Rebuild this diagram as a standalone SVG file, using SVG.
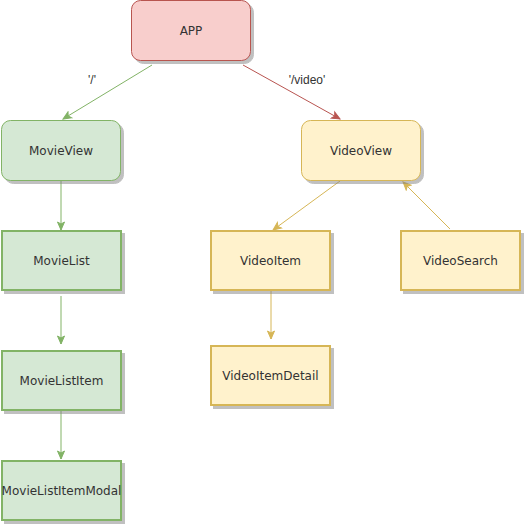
<svg xmlns="http://www.w3.org/2000/svg" width="524" height="525" viewBox="0 0 524 525">
<style>
.lbl{font-family:"DejaVu Sans",sans-serif;font-size:12px;fill:#333;text-anchor:middle;dominant-baseline:central}
.elbl{font-family:"Liberation Sans",Arial,sans-serif;font-size:12px;fill:#333;text-anchor:middle;dominant-baseline:central}
.g{fill:#d5e8d4;stroke:#82b366}
.r{fill:#f8cecc;stroke:#b85450}
.y{fill:#fff2cc;stroke:#d6b656}
.sh{filter:url(#shadow)}
</style>
<defs>
<filter id="shadow" x="-10%" y="-10%" width="130%" height="130%">
<feDropShadow dx="3" dy="3" stdDeviation="0.6" flood-color="#808080" flood-opacity="0.5"/>
</filter>
<marker id="ag" markerUnits="userSpaceOnUse" markerWidth="10" markerHeight="10" viewBox="0 0 10 10" refX="9" refY="5" orient="auto"><path d="M1,1.5 L9,5 L1,8.5 L3,5 z" fill="#82b366" stroke="#82b366"/></marker>
<marker id="ar" markerUnits="userSpaceOnUse" markerWidth="10" markerHeight="10" viewBox="0 0 10 10" refX="9" refY="5" orient="auto"><path d="M1,1.5 L9,5 L1,8.5 L3,5 z" fill="#b85450" stroke="#b85450"/></marker>
<marker id="ay" markerUnits="userSpaceOnUse" markerWidth="10" markerHeight="10" viewBox="0 0 10 10" refX="9" refY="5" orient="auto"><path d="M1,1.5 L9,5 L1,8.5 L3,5 z" fill="#d6b656" stroke="#d6b656"/></marker>
</defs>
<g id="connectors" fill="none">
<line x1="152" y1="65" x2="63" y2="119" stroke="#82b366" marker-end="url(#ag)"/>
<line x1="243" y1="65" x2="340" y2="119" stroke="#b85450" marker-end="url(#ar)"/>
<line x1="61" y1="181" x2="61" y2="230" stroke="#82b366" marker-end="url(#ag)"/>
<line x1="61" y1="296" x2="61" y2="344" stroke="#82b366" marker-end="url(#ag)"/>
<line x1="61" y1="411" x2="61" y2="459" stroke="#82b366" marker-end="url(#ag)"/>
<line x1="340" y1="181" x2="273" y2="230" stroke="#d6b656" marker-end="url(#ay)"/>
<line x1="450" y1="229" x2="403" y2="182" stroke="#d6b656" marker-end="url(#ay)"/>
<line x1="271" y1="291" x2="271" y2="339" stroke="#d6b656" marker-end="url(#ay)"/>
<text class="elbl" x="92" y="80">'/'</text>
<text class="elbl" x="307" y="80">'/video'</text>
</g>
<g id="app"><rect class="r sh" x="131.5" y="0.5" width="119" height="60" rx="9"/><text class="lbl" x="191" y="30.5">APP</text></g>
<g id="movieview"><rect class="g sh" x="1.5" y="120.5" width="119" height="60" rx="9"/><text class="lbl" x="61" y="150.5">MovieView</text></g>
<g id="videoview"><rect class="y sh" x="301.5" y="120.5" width="119" height="60" rx="9"/><text class="lbl" x="361" y="150.5">VideoView</text></g>
<g id="movielist"><rect class="g sh" x="2" y="231" width="119" height="59" stroke-width="2"/><text class="lbl" x="61.5" y="260.5">MovieList</text></g>
<g id="videoitem"><rect class="y sh" x="211" y="231" width="119" height="59" stroke-width="2"/><text class="lbl" x="270.5" y="260.5">VideoItem</text></g>
<g id="videosearch"><rect class="y sh" x="401" y="231" width="119" height="59" stroke-width="2"/><text class="lbl" x="460.5" y="260.5">VideoSearch</text></g>
<g id="movielistitem"><rect class="g sh" x="2" y="351" width="119" height="59" stroke-width="2"/><text class="lbl" x="61.5" y="380.5">MovieListItem</text></g>
<g id="videoitemdetail"><rect class="y sh" x="211" y="346" width="119" height="59" stroke-width="2"/><text class="lbl" x="270.5" y="375.5">VideoItemDetail</text></g>
<g id="movielistitemmodal"><rect class="g sh" x="2" y="461" width="119" height="59" stroke-width="2"/><text class="lbl" x="61.5" y="490.5">MovieListItemModal</text></g>
</svg>
